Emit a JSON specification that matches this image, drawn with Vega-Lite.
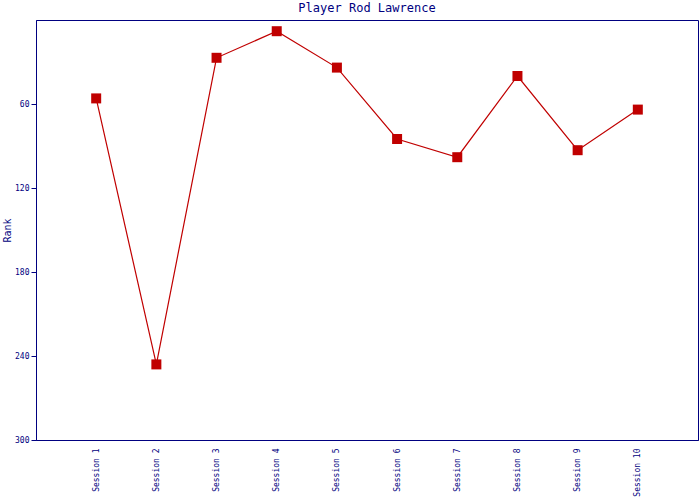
{
  "$schema": "https://vega.github.io/schema/vega-lite/v6.json",
  "autosize": {"type": "none"},
  "padding": {"left": 36, "top": 20, "right": 2, "bottom": 60},
  "width": 662,
  "height": 420,
  "background": "white",
  "title": {"text": "Player Rod Lawrence", "font": "DejaVu Sans Mono", "fontSize": 12, "fontWeight": "normal", "color": "#000080", "anchor": "middle", "offset": 5},
  "config": {
    "view": {"stroke": "#000080", "strokeWidth": 1},
    "axis": {"labelFont": "DejaVu Sans Mono", "titleFont": "DejaVu Sans Mono", "labelColor": "#000080", "titleColor": "#000080", "domainColor": "#000080", "tickColor": "#000080", "grid": false}
  },
  "data": {"values": [
    {"session": "Session 1", "rank": 56},
    {"session": "Session 2", "rank": 246},
    {"session": "Session 3", "rank": 27},
    {"session": "Session 4", "rank": 8},
    {"session": "Session 5", "rank": 34},
    {"session": "Session 6", "rank": 85},
    {"session": "Session 7", "rank": 98},
    {"session": "Session 8", "rank": 40},
    {"session": "Session 9", "rank": 93},
    {"session": "Session 10", "rank": 64}
  ]},
  "encoding": {
    "x": {"field": "session", "type": "ordinal", "sort": null, "scale": {"type": "point", "padding": 1},
      "axis": {"title": null, "labelAngle": -90, "labelAlign": "right", "labelBaseline": "middle", "labelFontSize": 8, "ticks": false, "labelPadding": 8}},
    "y": {"field": "rank", "type": "quantitative", "scale": {"domain": [0, 300], "reverse": true, "nice": false},
      "axis": {"title": "Rank", "values": [60, 120, 180, 240, 300], "labelFontSize": 8, "titleFontSize": 10, "titleFontWeight": "normal", "tickSize": 5, "labelPadding": 2, "titlePadding": 2}}
  },
  "layer": [
    {"mark": {"type": "line", "color": "#c00000", "strokeWidth": 1.2}},
    {"mark": {"type": "square", "color": "#c00000", "size": 100, "opacity": 1, "filled": true}}
  ]
}
